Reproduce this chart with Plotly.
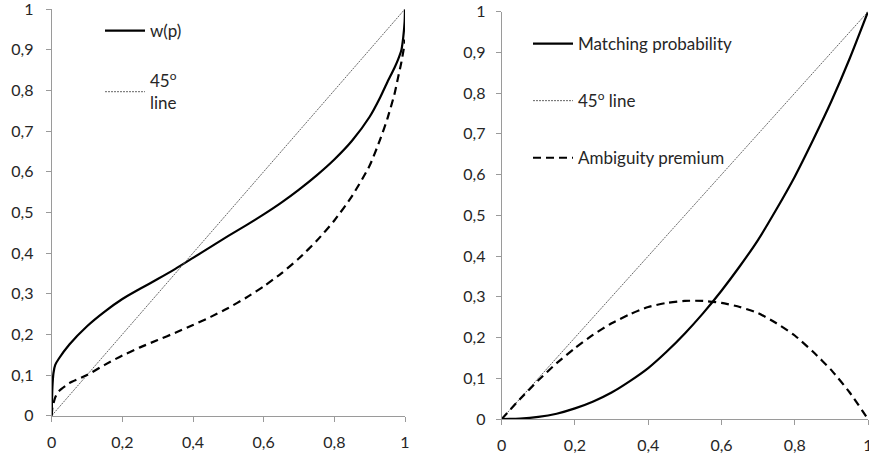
import plotly.graph_objects as go

# ---------------- data ----------------
# Left panel
p_left = [0, 0.002, 0.005, 0.01, 0.02, 0.05, 0.1, 0.15, 0.2, 0.25, 0.3, 0.35, 0.4, 0.45,
          0.5, 0.55, 0.6, 0.65, 0.7, 0.75, 0.8, 0.85, 0.9, 0.93, 0.95, 0.97, 0.98, 0.99,
          0.995, 0.999, 1]
w_p = [0, 0.07, 0.105, 0.125, 0.14, 0.175, 0.22, 0.256, 0.287, 0.312, 0.336, 0.361, 0.388,
       0.415, 0.442, 0.468, 0.495, 0.524, 0.556, 0.591, 0.63, 0.676, 0.735, 0.783, 0.82,
       0.855, 0.875, 0.9, 0.93, 0.97, 1.0]
w_dashed = [0, 0.02, 0.03, 0.045, 0.06, 0.08, 0.1, 0.125, 0.148, 0.168, 0.186, 0.204, 0.223,
            0.243, 0.265, 0.29, 0.318, 0.35, 0.387, 0.43, 0.48, 0.54, 0.615, 0.68, 0.73,
            0.79, 0.83, 0.87, 0.895, 0.915, 0.925]

# Right panel
p_right = [0, 0.05, 0.1, 0.15, 0.2, 0.25, 0.3, 0.35, 0.4, 0.45, 0.5, 0.55, 0.6, 0.65, 0.7,
           0.75, 0.8, 0.85, 0.9, 0.95, 1]
matching_prob = [0, 0.001, 0.005, 0.013, 0.026, 0.043, 0.065, 0.093, 0.125, 0.165, 0.21,
                 0.26, 0.315, 0.375, 0.44, 0.515, 0.595, 0.685, 0.78, 0.885, 1.0]
ambiguity_premium = [0, 0.049, 0.095, 0.137, 0.174, 0.207, 0.235, 0.257, 0.275, 0.285, 0.29,
                     0.29, 0.285, 0.275, 0.26, 0.235, 0.205, 0.165, 0.12, 0.065, 0]

diag = [0, 1]

x_ticks = [0, 0.2, 0.4, 0.6, 0.8, 1]
x_tick_labels = ["0", "0,2", "0,4", "0,6", "0,8", "1"]
y_ticks = [0, 0.1, 0.2, 0.3, 0.4, 0.5, 0.6, 0.7, 0.8, 0.9, 1]
y_tick_labels = ["0", "0,1", "0,2", "0,3", "0,4", "0,5", "0,6", "0,7", "0,8", "0,9", "1"]

# ---------------- figure ----------------
W, H = 869, 457
FONT = dict(family="Lato, 'Open Sans', sans-serif", size=16, color="#262626")
LFONT = dict(family="Lato, 'Open Sans', sans-serif", size=17, color="#262626")
AX = "#9a9a9a"

fig = go.Figure()

# left panel
fig.add_trace(go.Scatter(x=p_left, y=w_p, mode="lines", name="w(p)",
                         line=dict(color="black", width=2.2, shape="spline", smoothing=0.6),
                         xaxis="x", yaxis="y", legend="legend", legendgroup="a"))
fig.add_trace(go.Scatter(x=diag, y=diag, mode="lines", name="45<sup>o</sup><br>line",
                         line=dict(color="#666666", width=1, dash="2px,1px"),
                         xaxis="x", yaxis="y", legend="legend", legendgroup="b"))
fig.add_trace(go.Scatter(x=p_left, y=w_dashed, mode="lines", showlegend=False,
                         line=dict(color="black", width=2.2, dash="8px,5px", shape="spline", smoothing=0.6),
                         xaxis="x", yaxis="y"))

# right panel
fig.add_trace(go.Scatter(x=p_right, y=matching_prob, mode="lines", name="Matching probability",
                         line=dict(color="black", width=2.2, shape="spline", smoothing=0.6),
                         xaxis="x2", yaxis="y2", legend="legend2", legendgroup="c"))
fig.add_trace(go.Scatter(x=diag, y=diag, mode="lines", name="45<sup>o</sup> line",
                         line=dict(color="#666666", width=1, dash="2px,1px"),
                         xaxis="x2", yaxis="y2", legend="legend2", legendgroup="d"))
fig.add_trace(go.Scatter(x=p_right, y=ambiguity_premium, mode="lines", name="Ambiguity premium",
                         line=dict(color="black", width=2.2, dash="8px,5px", shape="spline", smoothing=0.6),
                         xaxis="x2", yaxis="y2", legend="legend2", legendgroup="e"))

def xax(domain, anchor):
    return dict(domain=domain, anchor=anchor, range=[0, 1], tickvals=x_ticks,
                ticktext=x_tick_labels, showline=True, linecolor=AX, linewidth=1,
                ticks="outside", ticklen=5, tickcolor=AX, showgrid=False, zeroline=False,
                tickfont=FONT, ticklabelstandoff=7, automargin=False,
                ticklabeloverflow="allow")

def yax(domain, anchor, standoff):
    return dict(domain=domain, anchor=anchor, range=[0, 1], tickvals=y_ticks,
                ticktext=y_tick_labels, showline=True, linecolor=AX, linewidth=1,
                ticks="outside", ticklen=5, tickcolor=AX, showgrid=False, zeroline=False,
                tickfont=FONT, ticklabelstandoff=standoff, automargin=False,
                ticklabeloverflow="allow")

fig.update_layout(
    width=W, height=H,
    margin=dict(l=0, r=0, t=0, b=0, autoexpand=False),
    paper_bgcolor="white", plot_bgcolor="white",
    font=FONT,
    xaxis=xax([51.7 / W, 405 / W], "y"),
    yaxis=yax([(H - 415.7) / H, (H - 9) / H], "x", 9),
    xaxis2=xax([501.7 / W, 868 / W], "y2"),
    yaxis2=yax([(H - 419) / H, (H - 11.7) / H], "x2", 7),
    legend=dict(x=100 / W, y=1 - 13 / H, xanchor="left", yanchor="top",
                bgcolor="rgba(0,0,0,0)", font=LFONT, tracegroupgap=25,
                itemwidth=40),
    legend2=dict(x=528 / W, y=1 - 26 / H, xanchor="left", yanchor="top",
                 bgcolor="rgba(0,0,0,0)", font=LFONT, tracegroupgap=32,
                 itemwidth=40),
)

fig.write_html("out.html",
               config={"displayModeBar": False},
               post_script="document.body.style.margin='0';document.body.style.overflow='hidden';")
